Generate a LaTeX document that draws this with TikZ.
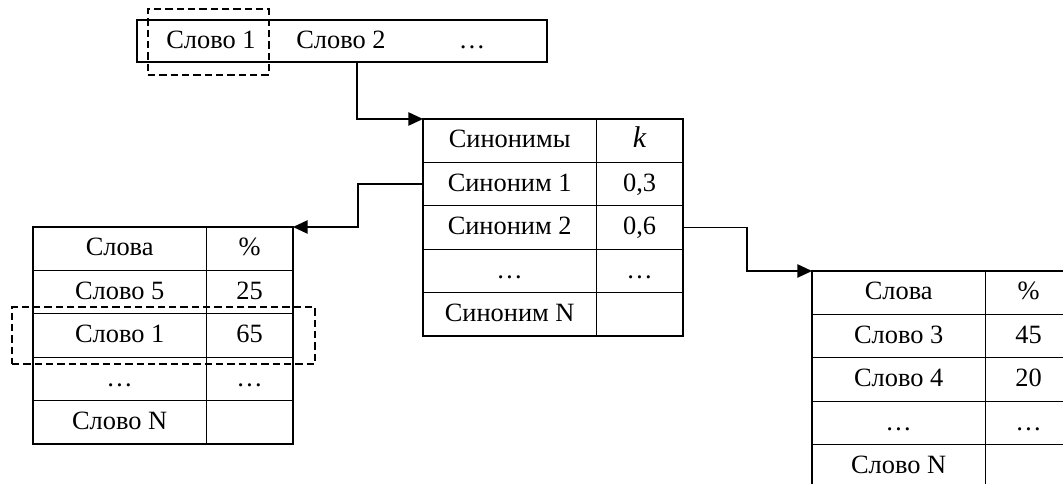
\documentclass[tikz,border=0pt]{standalone}
\usepackage{fontspec}
\setmainfont{Liberation Serif}
\usetikzlibrary{arrows.meta}
\begin{document}
\begin{tikzpicture}[x=0.75pt,y=-0.75pt,
  txt/.style={font=\fontsize{19.8}{23}\selectfont, inner sep=0pt, outer sep=0pt, text height=13.5pt, text depth=2.6pt},
  cellbox/.style={txt, draw, line width=0.9pt, minimum height=32.55pt, anchor=north west},
  wide/.style={cellbox, minimum width=130pt},
  narrow/.style={cellbox, minimum width=65pt},
  conn/.style={line width=1.1pt, -{Triangle[length=11pt,width=10pt]}},
  selbox/.style={draw, dashed, dash pattern=on 5.5pt off 3pt, line width=1.1pt, inner sep=0pt, outer sep=0pt, anchor=north west}
]
\useasboundingbox (0,0) rectangle (1063,484);
\clip (0,0) rectangle (1063,484);

% top bar
\node[draw, line width=0.9pt, inner sep=0pt, outer sep=0pt, minimum width=307.5pt, minimum height=31.5pt, anchor=north west] (bar) at (137,20) {};
\node[txt] (w1) at (211,41) {Слово 1};
\node[txt] (w2) at (341,41) {Слово 2};
\node[txt] (w3) at (472,41) {…};
\node[selbox, minimum width=90.75pt, minimum height=49.5pt] (sel1) at (148,9) {};

% middle table
\node[wide]   (m11) at (423,119)   {Синонимы};
\node[narrow] (m12) at (m11.north east) {\fontsize{22.5}{24}\selectfont\textit{k}};
\node[wide]   (m21) at (423,162.4) {Синоним 1};
\node[narrow] (m22) at (m21.north east) {0,3};
\node[wide]   (m31) at (423,205.8) {Синоним 2};
\node[narrow] (m32) at (m31.north east) {0,6};
\node[wide]   (m41) at (423,249.2) {…};
\node[narrow] (m42) at (m41.north east) {…};
\node[wide]   (m51) at (423,292.6) {Синоним N};
\node[narrow] (m52) at (m51.north east) {};

% left table
\node[wide]   (l11) at (33,227)   {Слова};
\node[narrow] (l12) at (l11.north east) {\%};
\node[wide]   (l21) at (33,270.4) {Слово 5};
\node[narrow] (l22) at (l21.north east) {25};
\node[wide]   (l31) at (33,313.8) {Слово 1};
\node[narrow] (l32) at (l31.north east) {65};
\node[wide]   (l41) at (33,357.2) {…};
\node[narrow] (l42) at (l41.north east) {…};
\node[wide]   (l51) at (33,400.6) {Слово N};
\node[narrow] (l52) at (l51.north east) {};
\node[selbox, minimum width=227.25pt, minimum height=42.75pt] (sel2) at (12,307) {};

% right table
\node[wide]   (r11) at (812,271)   {Слова};
\node[narrow] (r12) at (r11.north east) {\%};
\node[wide]   (r21) at (812,314.4) {Слово 3};
\node[narrow] (r22) at (r21.north east) {45};
\node[wide]   (r31) at (812,357.8) {Слово 4};
\node[narrow] (r32) at (r31.north east) {20};
\node[wide]   (r41) at (812,401.2) {…};
\node[narrow] (r42) at (r41.north east) {…};
\node[wide]   (r51) at (812,444.6) {Слово N};
\node[narrow] (r52) at (r51.north east) {};

% connectors
\draw[conn] ([xshift=165pt]bar.south west) |- (m11.north west);
\draw[conn] (m21.west) -- ++(-65,0) |- (l12.north east);
\draw[conn] (m32.east) -- ++(64,0) |- (r11.north west);
\end{tikzpicture}
\end{document}
